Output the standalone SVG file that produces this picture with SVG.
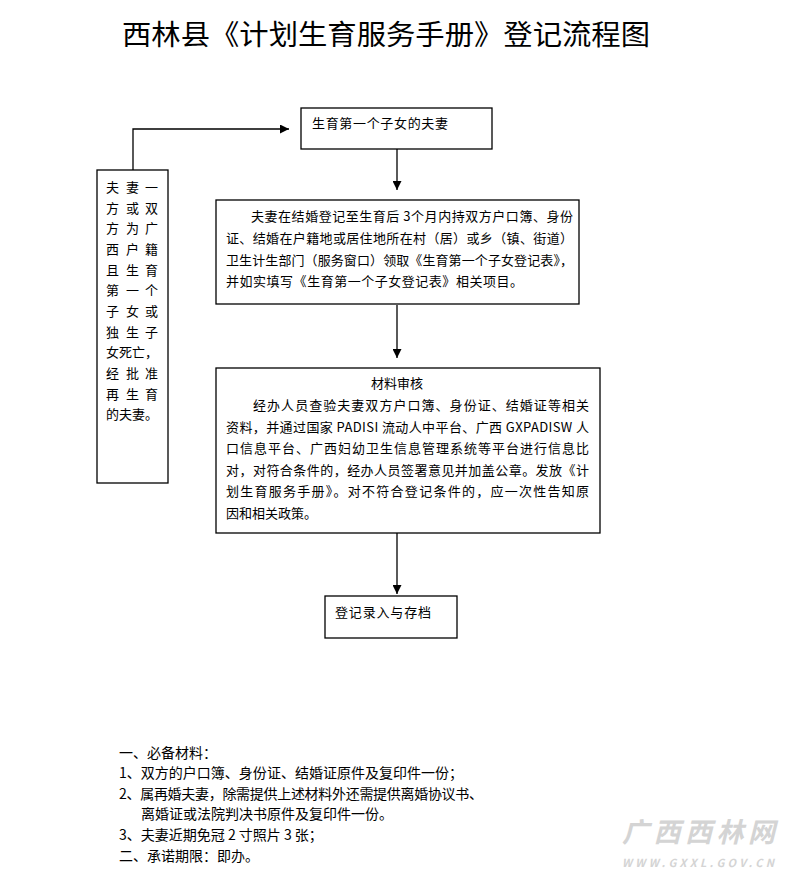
<svg xmlns="http://www.w3.org/2000/svg" width="793" height="883" viewBox="0 0 793 883">
<style>
.bx{fill:#fff;stroke:#000;stroke-width:1.3}
.t{font-family:"Noto Sans CJK SC","Liberation Sans",sans-serif;font-size:13px;fill:#000}
.b{font-family:"Noto Sans CJK SC","Liberation Sans",sans-serif;font-size:14px;fill:#000}
.ttl{font-family:"Noto Sans CJK SC","Liberation Sans",sans-serif;font-size:28px;fill:#000}
.ln{fill:none;stroke:#000;stroke-width:1.3}
.wm{font-family:"Noto Sans CJK SC","Liberation Sans",sans-serif;font-style:italic;fill:#d4d4d4}
</style>
<defs>
<marker id="ah" viewBox="0 0 10 10" refX="10" refY="5" markerUnits="userSpaceOnUse" markerWidth="9" markerHeight="9" orient="auto">
<path d="M0,0 L10,5 L0,10 z" fill="#000"/>
</marker>
</defs>
<rect width="793" height="883" fill="#fff"/>
<text class="ttl" x="122" y="45" textLength="528" lengthAdjust="spacingAndGlyphs">西林县《计划生育服务手册》登记流程图</text>

<g id="connectors">
<polyline class="ln" points="133,170 133,129 289,129" marker-end="url(#ah)"/>
<line class="ln" x1="397" y1="149" x2="397" y2="190" marker-end="url(#ah)"/>
<line class="ln" x1="397" y1="305" x2="397" y2="358" marker-end="url(#ah)"/>
<line class="ln" x1="397" y1="533" x2="397" y2="594" marker-end="url(#ah)"/>
</g>

<g id="node-side">
<rect class="bx" x="97" y="170" width="71" height="313"/>
<text class="t">
<tspan x="106 126 145" y="192">夫妻一</tspan>
<tspan x="106 126 145" y="213">方或双</tspan>
<tspan x="106 126 145" y="233">方为广</tspan>
<tspan x="106 126 145" y="254">西户籍</tspan>
<tspan x="106 126 145" y="275">且生育</tspan>
<tspan x="106 126 145" y="295">第一个</tspan>
<tspan x="106 126 145" y="316">子女或</tspan>
<tspan x="106 126 145" y="337">独生子</tspan>
<tspan x="106" y="357">女死亡，</tspan>
<tspan x="106 126 145" y="378">经批准</tspan>
<tspan x="106 126 145" y="399">再生育</tspan>
<tspan x="106" y="419">的夫妻。</tspan>
</text>
</g>

<g id="node-start">
<rect class="bx" x="301" y="108" width="191" height="41"/>
<text class="t" x="312" y="128" textLength="136" lengthAdjust="spacing">生育第一个子女的夫妻</text>
</g>

<g id="node-apply">
<rect class="bx" x="216" y="200" width="363" height="104"/>
<text class="t" x="251" y="221" textLength="322" lengthAdjust="spacing">夫妻在结婚登记至生育后 3个月内持双方户口簿、身份</text>
<text class="t" x="226" y="243" textLength="347" lengthAdjust="spacing">证、结婚在户籍地或居住地所在村（居）或乡（镇、街道）</text>
<text class="t" x="226" y="265" textLength="347" lengthAdjust="spacing">卫生计生部门（服务窗口）领取《生育第一个子女登记表》，</text>
<text class="t" x="226" y="286" textLength="297" lengthAdjust="spacing">并如实填写《生育第一个子女登记表》相关项目。</text>
</g>

<g id="node-review">
<rect class="bx" x="216" y="368" width="384" height="165"/>
<text class="t" x="397" y="388" text-anchor="middle">材料审核</text>
<text class="t" x="253" y="410" textLength="336" lengthAdjust="spacing">经办人员查验夫妻双方户口簿、身份证、结婚证等相关</text>
<text class="t" x="226" y="432" textLength="363" lengthAdjust="spacing">资料，并通过国家 PADISI 流动人中平台、广西 GXPADISW 人</text>
<text class="t" x="226" y="453" textLength="363" lengthAdjust="spacing">口信息平台、广西妇幼卫生信息管理系统等平台进行信息比</text>
<text class="t" x="226" y="475" textLength="363" lengthAdjust="spacing">对，对符合条件的，经办人员签署意见并加盖公章。发放《计</text>
<text class="t" x="226" y="496" textLength="363" lengthAdjust="spacing">划生育服务手册》。对不符合登记条件的，应一次性告知原</text>
<text class="t" x="226" y="518" textLength="91" lengthAdjust="spacing">因和相关政策。</text>
</g>

<g id="node-record">
<rect class="bx" x="325" y="596" width="132" height="42"/>
<text class="t" x="335" y="617" textLength="96" lengthAdjust="spacing">登记录入与存档</text>
</g>

<g id="notes">
<text class="b" x="119" y="758">一、必备材料：</text>
<text class="b" x="119" y="778" textLength="344" lengthAdjust="spacing">1、双方的户口簿、身份证、结婚证原件及复印件一份；</text>
<text class="b" x="119" y="799" textLength="364" lengthAdjust="spacing">2、属再婚夫妻，除需提供上述材料外还需提供离婚协议书、</text>
<text class="b" x="141" y="819">离婚证或法院判决书原件及复印件一份。</text>
<text class="b" x="119" y="840">3、夫妻近期免冠 2 寸照片 3 张；</text>
<text class="b" x="119" y="861">二、承诺期限：即办。</text>
</g>

<g id="watermark">
<text class="wm" x="622" y="842" font-size="27" font-weight="bold" textLength="153" lengthAdjust="spacing">广西西林网</text>
<text class="wm" x="622" y="867" font-size="11" font-weight="bold" textLength="152" lengthAdjust="spacing">WWW.GXXL.GOV.CN</text>
</g>
</svg>
